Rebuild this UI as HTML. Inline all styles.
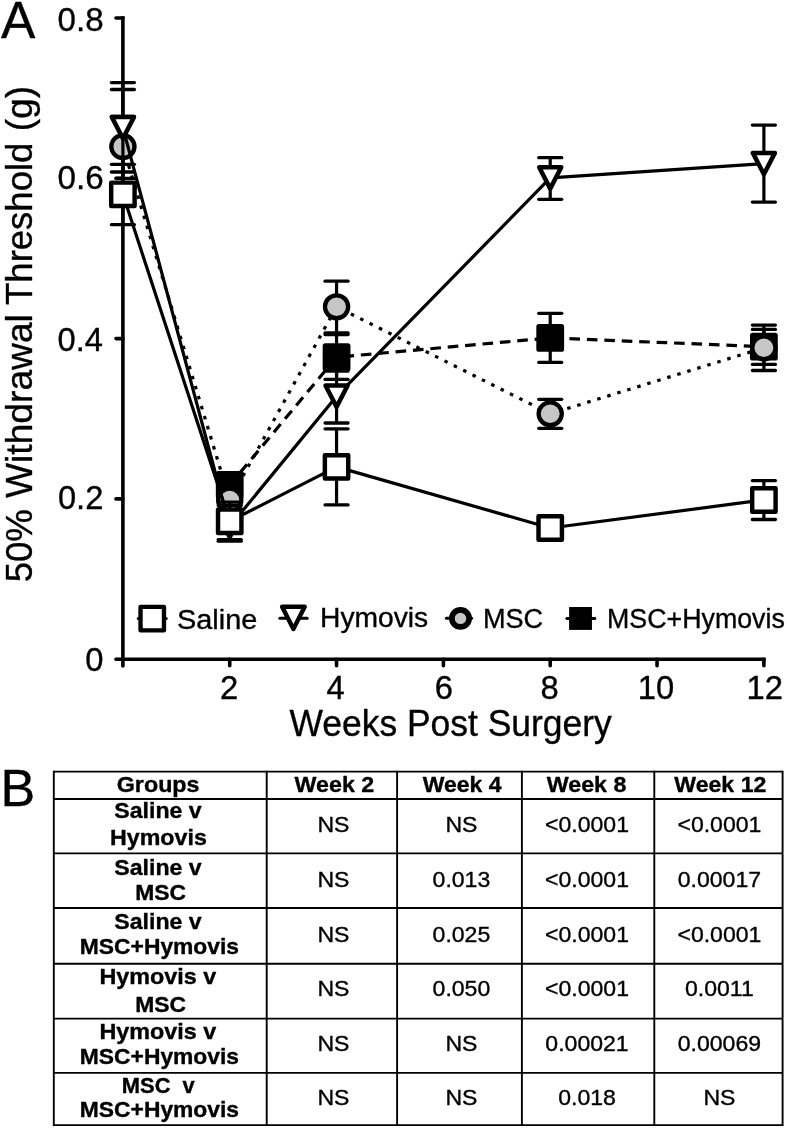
<!DOCTYPE html>
<html lang="en"><head><meta charset="utf-8"><title>Figure</title>
<style>
html,body{margin:0;padding:0;background:#fff;}
svg{display:block;}
text{font-family:"Liberation Sans", Arial, Helvetica, sans-serif;fill:#000;stroke:#000;stroke-width:0.35px;stroke-linejoin:round;}
</style></head>
<body>
<svg width="787" height="1128" viewBox="0 0 787 1128">
<rect x="0" y="0" width="787" height="1128" fill="#fff"/>
<line x1="122.9" y1="16.2" x2="122.9" y2="665.8" stroke="#000" stroke-width="3.6" stroke-linecap="butt"/>
<line x1="122.9" y1="665.8" x2="122.9" y2="665.9" stroke="#000" stroke-width="3.6" stroke-linecap="round"/>
<line x1="116" y1="659.2" x2="116.1" y2="659.2" stroke="#000" stroke-width="3.6" stroke-linecap="round"/>
<line x1="116" y1="659.2" x2="765.68" y2="659.2" stroke="#000" stroke-width="3.6" stroke-linecap="butt"/>
<line x1="116" y1="498.9" x2="122.9" y2="498.9" stroke="#000" stroke-width="3.6" stroke-linecap="round"/>
<line x1="116" y1="338.6" x2="122.9" y2="338.6" stroke="#000" stroke-width="3.6" stroke-linecap="round"/>
<line x1="116" y1="178.3" x2="122.9" y2="178.3" stroke="#000" stroke-width="3.6" stroke-linecap="round"/>
<line x1="116" y1="18.0" x2="122.9" y2="18.0" stroke="#000" stroke-width="3.6" stroke-linecap="round"/>
<line x1="229.73" y1="659.2" x2="229.73" y2="665.8" stroke="#000" stroke-width="3.6" stroke-linecap="round"/>
<line x1="336.56" y1="659.2" x2="336.56" y2="665.8" stroke="#000" stroke-width="3.6" stroke-linecap="round"/>
<line x1="443.39" y1="659.2" x2="443.39" y2="665.8" stroke="#000" stroke-width="3.6" stroke-linecap="round"/>
<line x1="550.22" y1="659.2" x2="550.22" y2="665.8" stroke="#000" stroke-width="3.6" stroke-linecap="round"/>
<line x1="657.05" y1="659.2" x2="657.05" y2="665.8" stroke="#000" stroke-width="3.6" stroke-linecap="round"/>
<line x1="763.88" y1="659.2" x2="763.88" y2="665.8" stroke="#000" stroke-width="3.6" stroke-linecap="round"/>
<text transform="translate(57.56,31.0) scale(0.9865,1)" font-size="33.6">0.8</text>
<text transform="translate(57.56,189.3) scale(0.9888,1)" font-size="33.6">0.6</text>
<text transform="translate(57.58,351.0) scale(0.9727,1)" font-size="33.6">0.4</text>
<text transform="translate(57.98,509.0) scale(0.9707,1)" font-size="33.6">0.2</text>
<text transform="translate(94.4,671.4) scale(0.975,1)" font-size="33.6" text-anchor="middle">0</text>
<text transform="translate(229.13,699.0) scale(0.975,1)" font-size="33.6" text-anchor="middle">2</text>
<text transform="translate(335.56,699.0) scale(0.975,1)" font-size="33.6" text-anchor="middle">4</text>
<text transform="translate(443.79,699.0) scale(0.975,1)" font-size="33.6" text-anchor="middle">6</text>
<text transform="translate(549.62,699.0) scale(0.975,1)" font-size="33.6" text-anchor="middle">8</text>
<text transform="translate(656.05,699.0) scale(0.975,1)" font-size="33.6" text-anchor="middle">10</text>
<text transform="translate(764.68,699.0) scale(0.975,1)" font-size="33.6" text-anchor="middle">12</text>
<text transform="translate(289.50,735.6) scale(0.9708,1)" font-size="36.5">Weeks Post Surgery</text>
<text transform="translate(31.7,582.34) rotate(-90) scale(0.9970,1.02)" font-size="36.7">50%</text>
<text transform="translate(31.7,498.00) rotate(-90) scale(1.0129,1.02)" font-size="36.7">Withdrawal</text>
<text transform="translate(31.7,304.97) rotate(-90) scale(0.9953,1.02)" font-size="36.7">Threshold</text>
<text transform="translate(31.7,131.35) rotate(-90) scale(1.0186,1.02)" font-size="36.7">(g)</text>
<text transform="translate(1.00,37.8) scale(0.9809,1)" font-size="52.5">A</text>
<text transform="translate(0.43,806.0) scale(1.0218,1)" font-size="51">B</text>
<polyline points="229.73,485 336.56,357.2 550.22,337.9 763.88,346.7" fill="none" stroke="#000" stroke-width="3.2" stroke-linejoin="round" stroke-dasharray="10.6 6.85" stroke-dashoffset="1.0"/>
<line x1="229.73" y1="474" x2="229.73" y2="500" stroke="#000" stroke-width="3.2" stroke-linecap="butt"/>
<line x1="218.23" y1="474" x2="241.23" y2="474" stroke="#000" stroke-width="3.3" stroke-linecap="round"/>
<line x1="218.23" y1="500" x2="241.23" y2="500" stroke="#000" stroke-width="3.3" stroke-linecap="round"/>
<line x1="336.56" y1="334.5" x2="336.56" y2="379.3" stroke="#000" stroke-width="3.2" stroke-linecap="butt"/>
<line x1="325.06" y1="334.5" x2="348.06" y2="334.5" stroke="#000" stroke-width="3.3" stroke-linecap="round"/>
<line x1="325.06" y1="379.3" x2="348.06" y2="379.3" stroke="#000" stroke-width="3.3" stroke-linecap="round"/>
<line x1="550.22" y1="313.3" x2="550.22" y2="362.4" stroke="#000" stroke-width="3.2" stroke-linecap="butt"/>
<line x1="538.72" y1="313.3" x2="561.72" y2="313.3" stroke="#000" stroke-width="3.3" stroke-linecap="round"/>
<line x1="538.72" y1="362.4" x2="561.72" y2="362.4" stroke="#000" stroke-width="3.3" stroke-linecap="round"/>
<line x1="763.88" y1="329.4" x2="763.88" y2="364.4" stroke="#000" stroke-width="3.2" stroke-linecap="butt"/>
<line x1="752.38" y1="329.4" x2="775.38" y2="329.4" stroke="#000" stroke-width="3.3" stroke-linecap="round"/>
<line x1="752.38" y1="364.4" x2="775.38" y2="364.4" stroke="#000" stroke-width="3.3" stroke-linecap="round"/>
<rect x="218.42999999999998" y="473.7" width="22.6" height="22.6" fill="#000" stroke="#000" stroke-width="5.2" stroke-linejoin="round"/>
<rect x="325.26" y="345.9" width="22.6" height="22.6" fill="#000" stroke="#000" stroke-width="5.2" stroke-linejoin="round"/>
<rect x="538.9200000000001" y="326.59999999999997" width="22.6" height="22.6" fill="#000" stroke="#000" stroke-width="5.2" stroke-linejoin="round"/>
<rect x="752.58" y="335.4" width="22.6" height="22.6" fill="#000" stroke="#000" stroke-width="5.2" stroke-linejoin="round"/>
<line x1="111.4" y1="89.5" x2="134.4" y2="89.5" stroke="#000" stroke-width="3.3" stroke-linecap="round"/>
<polyline points="122.9,146.6 229.73,500 336.56,306.75 550.22,413.8 763.88,347.8" fill="none" stroke="#000" stroke-width="3.2" stroke-linejoin="round" stroke-dasharray="3.5 6.969" stroke-dashoffset="1.2"/>
<line x1="229.73" y1="487" x2="229.73" y2="509" stroke="#000" stroke-width="3.2" stroke-linecap="butt"/>
<line x1="218.23" y1="487" x2="241.23" y2="487" stroke="#000" stroke-width="3.3" stroke-linecap="round"/>
<line x1="218.23" y1="509" x2="241.23" y2="509" stroke="#000" stroke-width="3.3" stroke-linecap="round"/>
<line x1="336.56" y1="281.2" x2="336.56" y2="332.8" stroke="#000" stroke-width="3.2" stroke-linecap="butt"/>
<line x1="325.06" y1="281.2" x2="348.06" y2="281.2" stroke="#000" stroke-width="3.3" stroke-linecap="round"/>
<line x1="325.06" y1="332.8" x2="348.06" y2="332.8" stroke="#000" stroke-width="3.3" stroke-linecap="round"/>
<line x1="550.22" y1="399.3" x2="550.22" y2="428.3" stroke="#000" stroke-width="3.2" stroke-linecap="butt"/>
<line x1="538.72" y1="399.3" x2="561.72" y2="399.3" stroke="#000" stroke-width="3.3" stroke-linecap="round"/>
<line x1="538.72" y1="428.3" x2="561.72" y2="428.3" stroke="#000" stroke-width="3.3" stroke-linecap="round"/>
<line x1="763.88" y1="325.1" x2="763.88" y2="370.5" stroke="#000" stroke-width="3.2" stroke-linecap="butt"/>
<line x1="752.38" y1="325.1" x2="775.38" y2="325.1" stroke="#000" stroke-width="3.3" stroke-linecap="round"/>
<line x1="752.38" y1="370.5" x2="775.38" y2="370.5" stroke="#000" stroke-width="3.3" stroke-linecap="round"/>
<line x1="122.9" y1="116.4" x2="122.9" y2="177.5" stroke="#000" stroke-width="3.2" stroke-linecap="butt"/>
<line x1="111.4" y1="116.4" x2="134.4" y2="116.4" stroke="#000" stroke-width="3.3" stroke-linecap="round"/>
<line x1="116.2" y1="178.4" x2="134.4" y2="178.4" stroke="#000" stroke-width="3.3" stroke-linecap="round"/>
<ellipse cx="122.9" cy="146.6" rx="11.6" ry="11.45" fill="#c6c6c6" stroke="#000" stroke-width="4.3"/>
<ellipse cx="229.73" cy="500" rx="11.6" ry="11.45" fill="#c6c6c6" stroke="#000" stroke-width="4.3"/>
<ellipse cx="336.56" cy="306.75" rx="11.6" ry="11.45" fill="#c6c6c6" stroke="#000" stroke-width="4.3"/>
<ellipse cx="550.22" cy="413.8" rx="11.6" ry="11.45" fill="#c6c6c6" stroke="#000" stroke-width="4.3"/>
<ellipse cx="763.88" cy="347.8" rx="11.6" ry="11.45" fill="#c6c6c6" stroke="#000" stroke-width="4.3"/>
<polyline points="122.9,127.8 229.73,526.5 336.56,396.2 550.22,177.9 763.88,163.6" fill="none" stroke="#000" stroke-width="3.2" stroke-linejoin="round"/>
<line x1="122.9" y1="82.6" x2="122.9" y2="172" stroke="#000" stroke-width="3.2" stroke-linecap="butt"/>
<line x1="111.4" y1="82.6" x2="134.4" y2="82.6" stroke="#000" stroke-width="3.3" stroke-linecap="round"/>
<line x1="111.4" y1="172" x2="134.4" y2="172" stroke="#000" stroke-width="3.3" stroke-linecap="round"/>
<line x1="229.73" y1="505.6" x2="229.73" y2="539.6" stroke="#000" stroke-width="3.2" stroke-linecap="butt"/>
<line x1="218.23" y1="505.6" x2="241.23" y2="505.6" stroke="#000" stroke-width="3.3" stroke-linecap="round"/>
<line x1="218.23" y1="539.6" x2="241.23" y2="539.6" stroke="#000" stroke-width="3.3" stroke-linecap="round"/>
<line x1="336.56" y1="371" x2="336.56" y2="423" stroke="#000" stroke-width="3.2" stroke-linecap="butt"/>
<line x1="325.06" y1="371" x2="348.06" y2="371" stroke="#000" stroke-width="3.3" stroke-linecap="round"/>
<line x1="325.06" y1="423" x2="348.06" y2="423" stroke="#000" stroke-width="3.3" stroke-linecap="round"/>
<line x1="550.22" y1="157.7" x2="550.22" y2="199.3" stroke="#000" stroke-width="3.2" stroke-linecap="butt"/>
<line x1="538.72" y1="157.7" x2="561.72" y2="157.7" stroke="#000" stroke-width="3.3" stroke-linecap="round"/>
<line x1="538.72" y1="199.3" x2="561.72" y2="199.3" stroke="#000" stroke-width="3.3" stroke-linecap="round"/>
<line x1="763.88" y1="125.1" x2="763.88" y2="202.1" stroke="#000" stroke-width="3.2" stroke-linecap="butt"/>
<line x1="752.38" y1="125.1" x2="775.38" y2="125.1" stroke="#000" stroke-width="3.3" stroke-linecap="round"/>
<line x1="752.38" y1="202.1" x2="775.38" y2="202.1" stroke="#000" stroke-width="3.3" stroke-linecap="round"/>
<polygon points="111.85000000000001,117.1 133.95000000000002,117.1 122.9,138.5" fill="#fff" stroke="#000" stroke-width="4.5" stroke-linejoin="round"/>
<polygon points="218.67999999999998,515.8 240.78,515.8 229.73,537.2" fill="#fff" stroke="#000" stroke-width="4.5" stroke-linejoin="round"/>
<polygon points="325.51,385.5 347.61,385.5 336.56,406.9" fill="#fff" stroke="#000" stroke-width="4.5" stroke-linejoin="round"/>
<polygon points="539.1700000000001,167.20000000000002 561.27,167.20000000000002 550.22,188.6" fill="#fff" stroke="#000" stroke-width="4.5" stroke-linejoin="round"/>
<polygon points="752.83,152.9 774.93,152.9 763.88,174.29999999999998" fill="#fff" stroke="#000" stroke-width="4.5" stroke-linejoin="round"/>
<polyline points="122.9,194.3 229.73,521.3 336.56,466.85 550.22,528.0 763.88,499.95" fill="none" stroke="#000" stroke-width="3.2" stroke-linejoin="round"/>
<line x1="122.9" y1="164.3" x2="122.9" y2="224.7" stroke="#000" stroke-width="3.2" stroke-linecap="butt"/>
<line x1="111.4" y1="164.3" x2="134.4" y2="164.3" stroke="#000" stroke-width="3.3" stroke-linecap="round"/>
<line x1="111.4" y1="224.7" x2="134.4" y2="224.7" stroke="#000" stroke-width="3.3" stroke-linecap="round"/>
<line x1="229.73" y1="502.2" x2="229.73" y2="541.2" stroke="#000" stroke-width="3.2" stroke-linecap="butt"/>
<line x1="218.23" y1="502.2" x2="241.23" y2="502.2" stroke="#000" stroke-width="3.3" stroke-linecap="round"/>
<line x1="218.23" y1="541.2" x2="241.23" y2="541.2" stroke="#000" stroke-width="3.3" stroke-linecap="round"/>
<line x1="336.56" y1="428.8" x2="336.56" y2="504.9" stroke="#000" stroke-width="3.2" stroke-linecap="butt"/>
<line x1="325.06" y1="428.8" x2="348.06" y2="428.8" stroke="#000" stroke-width="3.3" stroke-linecap="round"/>
<line x1="325.06" y1="504.9" x2="348.06" y2="504.9" stroke="#000" stroke-width="3.3" stroke-linecap="round"/>
<line x1="550.22" y1="519" x2="550.22" y2="537" stroke="#000" stroke-width="3.2" stroke-linecap="butt"/>
<line x1="538.72" y1="519" x2="561.72" y2="519" stroke="#000" stroke-width="3.3" stroke-linecap="round"/>
<line x1="538.72" y1="537" x2="561.72" y2="537" stroke="#000" stroke-width="3.3" stroke-linecap="round"/>
<line x1="763.88" y1="480.6" x2="763.88" y2="519.5" stroke="#000" stroke-width="3.2" stroke-linecap="butt"/>
<line x1="752.38" y1="480.6" x2="775.38" y2="480.6" stroke="#000" stroke-width="3.3" stroke-linecap="round"/>
<line x1="752.38" y1="519.5" x2="775.38" y2="519.5" stroke="#000" stroke-width="3.3" stroke-linecap="round"/>
<rect x="111.2" y="182.60000000000002" width="23.4" height="23.4" fill="#fff" stroke="#000" stroke-width="4.45" stroke-linejoin="round"/>
<rect x="218.03" y="509.59999999999997" width="23.4" height="23.4" fill="#fff" stroke="#000" stroke-width="4.45" stroke-linejoin="round"/>
<rect x="324.86" y="455.15000000000003" width="23.4" height="23.4" fill="#fff" stroke="#000" stroke-width="4.45" stroke-linejoin="round"/>
<rect x="538.52" y="516.3" width="23.4" height="23.4" fill="#fff" stroke="#000" stroke-width="4.45" stroke-linejoin="round"/>
<rect x="752.18" y="488.25" width="23.4" height="23.4" fill="#fff" stroke="#000" stroke-width="4.45" stroke-linejoin="round"/>
<line x1="138.3" y1="618.6" x2="166.2" y2="618.6" stroke="#000" stroke-width="3" stroke-linecap="round"/>
<rect x="140.525" y="606.875" width="23.45" height="23.45" fill="#fff" stroke="#000" stroke-width="4.35" stroke-linejoin="round"/>
<text transform="translate(177.00,628.5) scale(1.0327,1)" font-size="28">Saline</text>
<line x1="279.8" y1="618.2" x2="307.1" y2="618.2" stroke="#000" stroke-width="3" stroke-linecap="round"/>
<polygon points="282.09999999999997,606.7 304.7,606.7 293.4,629.0" fill="#fff" stroke="#000" stroke-width="4.4" stroke-linejoin="round"/>
<text transform="translate(319.99,627.4) scale(1.0089,1)" font-size="28">Hymovis</text>
<line x1="446.4" y1="618.3" x2="471.6" y2="618.3" stroke="#000" stroke-width="3" stroke-linecap="round"/>
<ellipse cx="460.5" cy="618.4" rx="8.6" ry="8.5" fill="#c6c6c6" stroke="#000" stroke-width="5.7"/>
<text transform="translate(482.88,627.8) scale(0.9685,1)" font-size="28">MSC</text>
<line x1="566.9" y1="618.4" x2="594.8" y2="618.4" stroke="#000" stroke-width="3" stroke-linecap="round"/>
<rect x="569.1" y="607" width="22.85" height="22.9" fill="#000"/>
<text transform="translate(607.01,627.8) scale(0.9571,1)" font-size="28">MSC+Hymovis</text>
<line x1="53.8" y1="770.65" x2="53.8" y2="1126.05" stroke="#000" stroke-width="1.9" stroke-linecap="butt"/>
<line x1="266.7" y1="770.65" x2="266.7" y2="1126.05" stroke="#000" stroke-width="1.9" stroke-linecap="butt"/>
<line x1="397.1" y1="770.65" x2="397.1" y2="1126.05" stroke="#000" stroke-width="1.9" stroke-linecap="butt"/>
<line x1="521.9" y1="770.65" x2="521.9" y2="1126.05" stroke="#000" stroke-width="1.9" stroke-linecap="butt"/>
<line x1="654.3" y1="770.65" x2="654.3" y2="1126.05" stroke="#000" stroke-width="1.9" stroke-linecap="butt"/>
<line x1="782.6" y1="770.65" x2="782.6" y2="1126.05" stroke="#000" stroke-width="1.9" stroke-linecap="butt"/>
<line x1="53.8" y1="771.6" x2="782.6" y2="771.6" stroke="#000" stroke-width="1.9" stroke-linecap="butt"/>
<line x1="53.8" y1="799" x2="782.6" y2="799" stroke="#000" stroke-width="1.9" stroke-linecap="butt"/>
<line x1="53.8" y1="853.4" x2="782.6" y2="853.4" stroke="#000" stroke-width="1.9" stroke-linecap="butt"/>
<line x1="53.8" y1="908" x2="782.6" y2="908" stroke="#000" stroke-width="1.9" stroke-linecap="butt"/>
<line x1="53.8" y1="963.7" x2="782.6" y2="963.7" stroke="#000" stroke-width="1.9" stroke-linecap="butt"/>
<line x1="53.8" y1="1018.6" x2="782.6" y2="1018.6" stroke="#000" stroke-width="1.9" stroke-linecap="butt"/>
<line x1="53.8" y1="1072.9" x2="782.6" y2="1072.9" stroke="#000" stroke-width="1.9" stroke-linecap="butt"/>
<line x1="53.8" y1="1125.1" x2="782.6" y2="1125.1" stroke="#000" stroke-width="1.9" stroke-linecap="butt"/>
<text transform="translate(116.75,792.1) scale(1.0590,1)" font-size="22" font-weight="bold">Groups</text>
<text transform="translate(294.50,792.3) scale(1.0578,1)" font-size="22" font-weight="bold">Week 2</text>
<text transform="translate(422.70,792.3) scale(1.0466,1)" font-size="22" font-weight="bold">Week 4</text>
<text transform="translate(546.70,792.3) scale(1.0577,1)" font-size="22" font-weight="bold">Week 8</text>
<text transform="translate(674.30,792.3) scale(1.0504,1)" font-size="22" font-weight="bold">Week 12</text>
<text transform="translate(114.27,818.1) scale(1.0519,1)" font-size="22" font-weight="bold">Saline v</text>
<text transform="translate(110.02,844.7) scale(1.0562,1)" font-size="22" font-weight="bold">Hymovis</text>
<text transform="translate(114.27,875.2) scale(1.0519,1)" font-size="22" font-weight="bold">Saline v</text>
<text transform="translate(135.14,900.3) scale(1.0405,1)" font-size="22" font-weight="bold">MSC</text>
<text transform="translate(114.27,929.1) scale(1.0519,1)" font-size="22" font-weight="bold">Saline v</text>
<text transform="translate(79.85,954) scale(1.0383,1)" font-size="22" font-weight="bold">MSC+Hymovis</text>
<text transform="translate(99.41,984.4) scale(1.0624,1)" font-size="22" font-weight="bold">Hymovis v</text>
<text transform="translate(135.14,1012.2) scale(1.0405,1)" font-size="22" font-weight="bold">MSC</text>
<text transform="translate(99.41,1038.9) scale(1.0624,1)" font-size="22" font-weight="bold">Hymovis v</text>
<text transform="translate(79.85,1063.5) scale(1.0383,1)" font-size="22" font-weight="bold">MSC+Hymovis</text>
<text transform="translate(121.81,1092.8) scale(0.9957,1)" font-size="22" font-weight="bold">MSC  v</text>
<text transform="translate(79.85,1117.1) scale(1.0383,1)" font-size="22" font-weight="bold">MSC+Hymovis</text>
<text transform="translate(333.4,832.4) scale(1.048,1)" font-size="22" text-anchor="middle">NS</text>
<text transform="translate(461.4,832.4) scale(1.048,1)" font-size="22" text-anchor="middle">NS</text>
<text transform="translate(587.0,832.4) scale(1.048,1)" font-size="22" text-anchor="middle">&lt;0.0001</text>
<text transform="translate(719.4,832.4) scale(1.048,1)" font-size="22" text-anchor="middle">&lt;0.0001</text>
<text transform="translate(333.4,886.8) scale(1.048,1)" font-size="22" text-anchor="middle">NS</text>
<text transform="translate(461.4,886.8) scale(1.048,1)" font-size="22" text-anchor="middle">0.013</text>
<text transform="translate(587.0,886.8) scale(1.048,1)" font-size="22" text-anchor="middle">&lt;0.0001</text>
<text transform="translate(719.4,886.8) scale(1.048,1)" font-size="22" text-anchor="middle">0.00017</text>
<text transform="translate(333.4,941.7) scale(1.048,1)" font-size="22" text-anchor="middle">NS</text>
<text transform="translate(461.4,941.7) scale(1.048,1)" font-size="22" text-anchor="middle">0.025</text>
<text transform="translate(587.0,941.7) scale(1.048,1)" font-size="22" text-anchor="middle">&lt;0.0001</text>
<text transform="translate(719.4,941.7) scale(1.048,1)" font-size="22" text-anchor="middle">&lt;0.0001</text>
<text transform="translate(333.4,996) scale(1.048,1)" font-size="22" text-anchor="middle">NS</text>
<text transform="translate(461.4,996) scale(1.048,1)" font-size="22" text-anchor="middle">0.050</text>
<text transform="translate(587.0,996) scale(1.048,1)" font-size="22" text-anchor="middle">&lt;0.0001</text>
<text transform="translate(719.4,996) scale(1.048,1)" font-size="22" text-anchor="middle">0.0011</text>
<text transform="translate(333.4,1051) scale(1.048,1)" font-size="22" text-anchor="middle">NS</text>
<text transform="translate(461.4,1051) scale(1.048,1)" font-size="22" text-anchor="middle">NS</text>
<text transform="translate(587.0,1051) scale(1.048,1)" font-size="22" text-anchor="middle">0.00021</text>
<text transform="translate(719.4,1051) scale(1.048,1)" font-size="22" text-anchor="middle">0.00069</text>
<text transform="translate(333.4,1105.3) scale(1.048,1)" font-size="22" text-anchor="middle">NS</text>
<text transform="translate(461.4,1105.3) scale(1.048,1)" font-size="22" text-anchor="middle">NS</text>
<text transform="translate(587.0,1105.3) scale(1.048,1)" font-size="22" text-anchor="middle">0.018</text>
<text transform="translate(719.4,1105.3) scale(1.048,1)" font-size="22" text-anchor="middle">NS</text>
</svg>
</body></html>
